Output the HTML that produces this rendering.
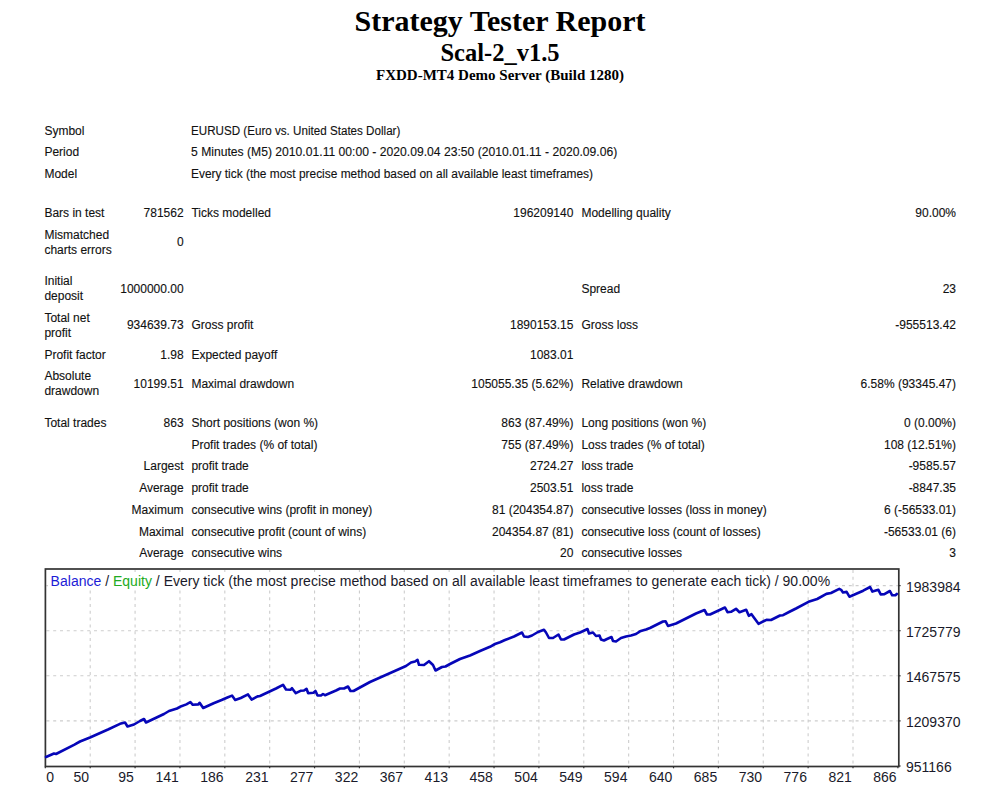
<!DOCTYPE html>
<html><head><meta charset="utf-8"><title>Strategy Tester Report</title>
<style>
html,body{margin:0;padding:0;background:#fff;}
body{width:1000px;height:794px;position:relative;overflow:hidden;}
.h{position:absolute;left:0;width:1000px;text-align:center;font-family:"Liberation Serif",serif;font-weight:bold;color:#000;white-space:nowrap;}
.t{position:absolute;font-family:"Liberation Sans",sans-serif;font-size:12px;line-height:14px;color:#111;white-space:nowrap;-webkit-text-stroke:0.12px #111;}
svg{position:absolute;left:0;top:0;}
.g{stroke:#cdcdcd;stroke-width:1.1;stroke-dasharray:3 3.8;}
.ax{font-family:"Liberation Sans",sans-serif;font-size:14px;fill:#1a1a2a;}
</style></head><body>
<div class="h" style="top:4.0px;font-size:30px;line-height:34px">Strategy Tester Report</div>
<div class="h" style="top:39.0px;font-size:24.5px;line-height:28px">Scal-2_v1.5</div>
<div class="h" style="top:66.0px;font-size:15px;line-height:18px">FXDD-MT4 Demo Server (Build 1280)</div>
<div class="t" style="left:44.4px;top:123.6px">Symbol</div>
<div class="t" style="left:191.4px;top:123.6px;transform:scaleX(0.969);transform-origin:0 0">EURUSD (Euro vs. United States Dollar)</div>
<div class="t" style="left:44.4px;top:145.2px">Period</div>
<div class="t" style="left:191.4px;top:145.2px;transform:scaleX(1.012);transform-origin:0 0">5 Minutes (M5) 2010.01.11 00:00 - 2020.09.04 23:50 (2010.01.11 - 2020.09.06)</div>
<div class="t" style="left:44.4px;top:166.8px">Model</div>
<div class="t" style="left:191.4px;top:166.8px;transform:scaleX(0.993);transform-origin:0 0">Every tick (the most precise method based on all available least timeframes)</div>
<div class="t" style="left:44.4px;top:206.2px">Bars in test</div>
<div class="t r" style="right:816.4px;top:206.2px">781562</div>
<div class="t" style="left:191.4px;top:206.2px">Ticks modelled</div>
<div class="t r" style="right:426.6px;top:206.2px">196209140</div>
<div class="t" style="left:581.4px;top:206.2px">Modelling quality</div>
<div class="t r" style="right:44.0px;top:206.2px">90.00%</div>
<div class="t" style="left:44.4px;top:228.2px">Mismatched</div>
<div class="t" style="left:44.4px;top:242.6px">charts errors</div>
<div class="t r" style="right:816.4px;top:235.4px">0</div>
<div class="t" style="left:44.4px;top:274.2px">Initial</div>
<div class="t" style="left:44.4px;top:288.6px">deposit</div>
<div class="t r" style="right:816.4px;top:281.6px">1000000.00</div>
<div class="t" style="left:581.4px;top:281.6px">Spread</div>
<div class="t r" style="right:44.0px;top:281.6px">23</div>
<div class="t" style="left:44.4px;top:311.2px">Total net</div>
<div class="t" style="left:44.4px;top:325.8px">profit</div>
<div class="t r" style="right:816.4px;top:318.4px">934639.73</div>
<div class="t" style="left:191.4px;top:318.4px">Gross profit</div>
<div class="t r" style="right:426.6px;top:318.4px">1890153.15</div>
<div class="t" style="left:581.4px;top:318.4px">Gross loss</div>
<div class="t r" style="right:44.0px;top:318.4px">-955513.42</div>
<div class="t" style="left:44.4px;top:347.6px">Profit factor</div>
<div class="t r" style="right:816.4px;top:347.6px">1.98</div>
<div class="t" style="left:191.4px;top:347.6px">Expected payoff</div>
<div class="t r" style="right:426.6px;top:347.6px">1083.01</div>
<div class="t" style="left:44.4px;top:369.2px">Absolute</div>
<div class="t" style="left:44.4px;top:383.8px">drawdown</div>
<div class="t r" style="right:816.4px;top:376.6px">10199.51</div>
<div class="t" style="left:191.4px;top:376.6px">Maximal drawdown</div>
<div class="t r" style="right:426.6px;top:376.6px">105055.35 (5.62%)</div>
<div class="t" style="left:581.4px;top:376.6px">Relative drawdown</div>
<div class="t r" style="right:44.0px;top:376.6px">6.58% (93345.47)</div>
<div class="t" style="left:44.4px;top:415.7px">Total trades</div>
<div class="t r" style="right:816.4px;top:415.7px">863</div>
<div class="t" style="left:191.4px;top:415.7px">Short positions (won %)</div>
<div class="t r" style="right:426.6px;top:415.7px">863 (87.49%)</div>
<div class="t" style="left:581.4px;top:415.7px">Long positions (won %)</div>
<div class="t r" style="right:44.0px;top:415.7px">0 (0.00%)</div>
<div class="t" style="left:191.4px;top:437.5px">Profit trades (% of total)</div>
<div class="t r" style="right:426.6px;top:437.5px">755 (87.49%)</div>
<div class="t" style="left:581.4px;top:437.5px">Loss trades (% of total)</div>
<div class="t r" style="right:44.0px;top:437.5px">108 (12.51%)</div>
<div class="t r" style="right:816.4px;top:459.2px">Largest</div>
<div class="t" style="left:191.4px;top:459.2px">profit trade</div>
<div class="t r" style="right:426.6px;top:459.2px">2724.27</div>
<div class="t" style="left:581.4px;top:459.2px">loss trade</div>
<div class="t r" style="right:44.0px;top:459.2px">-9585.57</div>
<div class="t r" style="right:816.4px;top:481.1px">Average</div>
<div class="t" style="left:191.4px;top:481.1px">profit trade</div>
<div class="t r" style="right:426.6px;top:481.1px">2503.51</div>
<div class="t" style="left:581.4px;top:481.1px">loss trade</div>
<div class="t r" style="right:44.0px;top:481.1px">-8847.35</div>
<div class="t r" style="right:816.4px;top:502.9px">Maximum</div>
<div class="t" style="left:191.4px;top:502.9px">consecutive wins (profit in money)</div>
<div class="t r" style="right:426.6px;top:502.9px">81 (204354.87)</div>
<div class="t" style="left:581.4px;top:502.9px">consecutive losses (loss in money)</div>
<div class="t r" style="right:44.0px;top:502.9px">6 (-56533.01)</div>
<div class="t r" style="right:816.4px;top:524.7px">Maximal</div>
<div class="t" style="left:191.4px;top:524.7px">consecutive profit (count of wins)</div>
<div class="t r" style="right:426.6px;top:524.7px">204354.87 (81)</div>
<div class="t" style="left:581.4px;top:524.7px">consecutive loss (count of losses)</div>
<div class="t r" style="right:44.0px;top:524.7px">-56533.01 (6)</div>
<div class="t r" style="right:816.4px;top:546.4px">Average</div>
<div class="t" style="left:191.4px;top:546.4px">consecutive wins</div>
<div class="t r" style="right:426.6px;top:546.4px">20</div>
<div class="t" style="left:581.4px;top:546.4px">consecutive losses</div>
<div class="t r" style="right:44.0px;top:546.4px">3</div>
<svg width="1000" height="794" viewBox="0 0 1000 794">
<line x1="90.21" y1="570.0" x2="90.21" y2="765.5" class="g"/>
<line x1="135.08" y1="570.0" x2="135.08" y2="765.5" class="g"/>
<line x1="179.95" y1="570.0" x2="179.95" y2="765.5" class="g"/>
<line x1="224.82" y1="570.0" x2="224.82" y2="765.5" class="g"/>
<line x1="269.69" y1="570.0" x2="269.69" y2="765.5" class="g"/>
<line x1="314.56" y1="570.0" x2="314.56" y2="765.5" class="g"/>
<line x1="359.43" y1="570.0" x2="359.43" y2="765.5" class="g"/>
<line x1="404.30" y1="570.0" x2="404.30" y2="765.5" class="g"/>
<line x1="449.17" y1="570.0" x2="449.17" y2="765.5" class="g"/>
<line x1="494.04" y1="570.0" x2="494.04" y2="765.5" class="g"/>
<line x1="538.91" y1="570.0" x2="538.91" y2="765.5" class="g"/>
<line x1="583.78" y1="570.0" x2="583.78" y2="765.5" class="g"/>
<line x1="628.65" y1="570.0" x2="628.65" y2="765.5" class="g"/>
<line x1="673.52" y1="570.0" x2="673.52" y2="765.5" class="g"/>
<line x1="718.39" y1="570.0" x2="718.39" y2="765.5" class="g"/>
<line x1="763.26" y1="570.0" x2="763.26" y2="765.5" class="g"/>
<line x1="808.13" y1="570.0" x2="808.13" y2="765.5" class="g"/>
<line x1="853.00" y1="570.0" x2="853.00" y2="765.5" class="g"/>
<line x1="46.4" y1="720.90" x2="897.8" y2="720.90" class="g"/>
<line x1="46.4" y1="675.80" x2="897.8" y2="675.80" class="g"/>
<line x1="46.4" y1="630.70" x2="897.8" y2="630.70" class="g"/>
<line x1="46.4" y1="585.60" x2="897.8" y2="585.60" class="g"/>
<rect x="45.4" y="569.0" width="853.40" height="197.50" fill="none" stroke="#333" stroke-width="1.7"/>
<line x1="45.34" y1="766.5" x2="45.34" y2="768.3" stroke="#333" stroke-width="1.2"/>
<line x1="90.21" y1="766.5" x2="90.21" y2="768.3" stroke="#333" stroke-width="1.2"/>
<line x1="135.08" y1="766.5" x2="135.08" y2="768.3" stroke="#333" stroke-width="1.2"/>
<line x1="179.95" y1="766.5" x2="179.95" y2="768.3" stroke="#333" stroke-width="1.2"/>
<line x1="224.82" y1="766.5" x2="224.82" y2="768.3" stroke="#333" stroke-width="1.2"/>
<line x1="269.69" y1="766.5" x2="269.69" y2="768.3" stroke="#333" stroke-width="1.2"/>
<line x1="314.56" y1="766.5" x2="314.56" y2="768.3" stroke="#333" stroke-width="1.2"/>
<line x1="359.43" y1="766.5" x2="359.43" y2="768.3" stroke="#333" stroke-width="1.2"/>
<line x1="404.30" y1="766.5" x2="404.30" y2="768.3" stroke="#333" stroke-width="1.2"/>
<line x1="449.17" y1="766.5" x2="449.17" y2="768.3" stroke="#333" stroke-width="1.2"/>
<line x1="494.04" y1="766.5" x2="494.04" y2="768.3" stroke="#333" stroke-width="1.2"/>
<line x1="538.91" y1="766.5" x2="538.91" y2="768.3" stroke="#333" stroke-width="1.2"/>
<line x1="583.78" y1="766.5" x2="583.78" y2="768.3" stroke="#333" stroke-width="1.2"/>
<line x1="628.65" y1="766.5" x2="628.65" y2="768.3" stroke="#333" stroke-width="1.2"/>
<line x1="673.52" y1="766.5" x2="673.52" y2="768.3" stroke="#333" stroke-width="1.2"/>
<line x1="718.39" y1="766.5" x2="718.39" y2="768.3" stroke="#333" stroke-width="1.2"/>
<line x1="763.26" y1="766.5" x2="763.26" y2="768.3" stroke="#333" stroke-width="1.2"/>
<line x1="808.13" y1="766.5" x2="808.13" y2="768.3" stroke="#333" stroke-width="1.2"/>
<line x1="853.00" y1="766.5" x2="853.00" y2="768.3" stroke="#333" stroke-width="1.2"/>
<line x1="897.87" y1="766.5" x2="897.87" y2="768.3" stroke="#333" stroke-width="1.2"/>
<line x1="898.8" y1="766.00" x2="900.5999999999999" y2="766.00" stroke="#333" stroke-width="1.2"/>
<line x1="898.8" y1="720.90" x2="900.5999999999999" y2="720.90" stroke="#333" stroke-width="1.2"/>
<line x1="898.8" y1="675.80" x2="900.5999999999999" y2="675.80" stroke="#333" stroke-width="1.2"/>
<line x1="898.8" y1="630.70" x2="900.5999999999999" y2="630.70" stroke="#333" stroke-width="1.2"/>
<line x1="898.8" y1="585.60" x2="900.5999999999999" y2="585.60" stroke="#333" stroke-width="1.2"/>
<path d="M46.0,757.0 L54.0,753.5 L56.0,754.0 L74.0,744.8 L80.0,741.5 L90.0,737.5 L108.0,729.5 L120.0,723.8 L125.0,722.5 L127.5,726.5 L134.0,724.5 L140.0,721.0 L144.0,719.0 L146.0,722.5 L164.0,714.0 L169.0,711.0 L177.0,708.5 L180.0,706.8 L186.4,704.4 L190.4,702.0 L192.8,704.8 L198.4,704.4 L199.6,702.8 L203.2,708.0 L213.6,703.2 L221.6,700.0 L228.0,697.2 L232.0,695.6 L235.2,700.0 L240.8,698.0 L248.0,694.4 L251.6,699.6 L257.6,696.4 L260.0,696.0 L276.0,688.5 L283.0,684.8 L286.0,689.5 L290.5,689.8 L292.0,688.2 L295.8,693.2 L300.5,690.8 L304.0,690.5 L306.5,688.8 L308.2,693.2 L313.5,692.8 L315.5,691.0 L317.5,695.5 L321.0,695.5 L323.0,694.0 L325.0,695.2 L336.0,690.5 L340.0,688.5 L344.0,688.5 L348.0,686.5 L350.5,691.0 L353.5,691.0 L370.0,682.0 L388.0,674.0 L406.0,666.0 L411.0,662.5 L415.0,661.5 L417.5,659.8 L419.0,664.8 L424.0,665.0 L429.0,661.2 L433.0,665.0 L435.5,670.5 L442.0,667.0 L445.5,666.5 L450.0,664.0 L460.0,659.0 L470.0,655.5 L480.0,651.0 L490.0,646.8 L495.0,644.0 L500.0,642.2 L505.0,640.0 L514.0,636.5 L522.0,632.5 L524.0,636.5 L528.0,637.0 L532.0,635.5 L538.0,632.0 L544.0,629.8 L546.0,632.5 L549.0,638.0 L553.0,638.0 L558.5,634.5 L561.0,639.5 L564.0,639.5 L574.0,634.5 L580.0,632.5 L587.5,629.0 L589.0,633.5 L593.0,632.5 L596.0,636.0 L599.5,635.5 L601.0,639.5 L604.0,640.5 L607.0,639.0 L611.5,637.0 L613.0,641.0 L616.0,641.5 L621.0,638.0 L626.0,636.5 L631.0,635.5 L636.0,634.0 L640.0,631.3 L646.0,629.5 L650.0,628.0 L663.0,621.5 L665.5,621.2 L668.0,626.0 L676.0,623.5 L696.0,613.5 L704.5,610.0 L707.0,614.5 L710.0,614.5 L725.0,607.5 L727.5,612.2 L731.0,611.8 L736.0,608.8 L739.5,612.2 L743.5,610.8 L746.2,609.8 L748.8,615.8 L751.5,614.2 L753.5,617.0 L758.5,623.8 L764.0,621.0 L766.5,619.8 L771.0,620.0 L775.0,618.0 L780.0,615.5 L783.0,615.2 L790.0,611.5 L796.0,608.5 L808.5,601.8 L817.2,599.0 L826.4,593.9 L831.0,593.0 L839.3,588.9 L841.1,589.8 L843.0,592.5 L846.6,591.9 L849.4,596.7 L854.0,594.8 L863.2,590.7 L870.1,587.0 L872.4,591.6 L878.4,589.8 L880.7,594.4 L884.4,594.1 L889.9,591.0 L892.2,595.3 L895.4,595.3 L896.8,594.0" fill="none" stroke="#0606b8" stroke-width="2.6" stroke-linejoin="round" stroke-linecap="round"/>
<text x="46.14" y="781.8" class="ax">0</text>
<text x="89.01" y="781.8" class="ax" text-anchor="end">50</text>
<text x="133.88" y="781.8" class="ax" text-anchor="end">95</text>
<text x="178.75" y="781.8" class="ax" text-anchor="end">141</text>
<text x="223.62" y="781.8" class="ax" text-anchor="end">186</text>
<text x="268.49" y="781.8" class="ax" text-anchor="end">231</text>
<text x="313.36" y="781.8" class="ax" text-anchor="end">277</text>
<text x="358.23" y="781.8" class="ax" text-anchor="end">322</text>
<text x="403.10" y="781.8" class="ax" text-anchor="end">367</text>
<text x="447.97" y="781.8" class="ax" text-anchor="end">413</text>
<text x="492.84" y="781.8" class="ax" text-anchor="end">458</text>
<text x="537.71" y="781.8" class="ax" text-anchor="end">504</text>
<text x="582.58" y="781.8" class="ax" text-anchor="end">549</text>
<text x="627.45" y="781.8" class="ax" text-anchor="end">594</text>
<text x="672.32" y="781.8" class="ax" text-anchor="end">640</text>
<text x="717.19" y="781.8" class="ax" text-anchor="end">685</text>
<text x="762.06" y="781.8" class="ax" text-anchor="end">730</text>
<text x="806.93" y="781.8" class="ax" text-anchor="end">776</text>
<text x="851.80" y="781.8" class="ax" text-anchor="end">821</text>
<text x="896.67" y="781.8" class="ax" text-anchor="end">866</text>
<text x="906" y="772.20" class="ax">951166</text>
<text x="906" y="727.10" class="ax">1209370</text>
<text x="906" y="682.00" class="ax">1467575</text>
<text x="906" y="636.90" class="ax">1725779</text>
<text x="906" y="591.80" class="ax">1983984</text>
<rect x="48" y="572" width="784" height="17.5" fill="#fff"/>
<text x="50.6" y="585.8" class="ax" textLength="779.5" lengthAdjust="spacing"><tspan fill="#1c1cd6">Balance</tspan> / <tspan fill="#22aa22">Equity</tspan> / Every tick (the most precise method based on all available least timeframes to generate each tick) / 90.00%</text>
</svg>
</body></html>
